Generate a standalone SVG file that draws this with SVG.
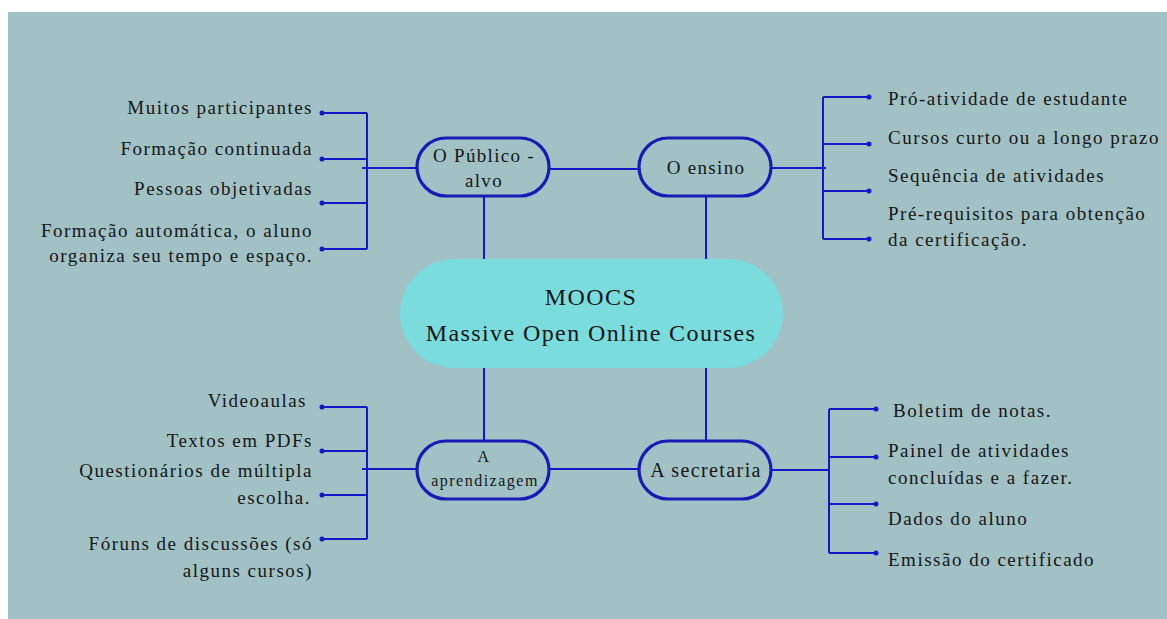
<svg xmlns="http://www.w3.org/2000/svg" width="1167" height="619" viewBox="0 0 1167 619">
  <style>
    .bg { fill: #a1c1c5; }
    .node { fill: none; stroke: #1a1ab4; stroke-width: 3.2; }
    .center { fill: #7adcdc; stroke: none; }
    .conn { fill: none; stroke: #1018c8; stroke-width: 2; }
    .dot { fill: #1018c8; }
    text { font-family: "Liberation Serif", "Times New Roman", serif; fill: #161616; }
    .lbl { font-size: 19px; letter-spacing: 1.5px; }
    .nd { font-size: 19px; letter-spacing: 1.3px; text-anchor: middle; }
    .ct { font-size: 24px; letter-spacing: 1.4px; text-anchor: middle; }
    .l { text-anchor: end; }
  </style>
  <rect x="0" y="0" width="1167" height="619" fill="#ffffff"/>
  <rect class="bg" x="8" y="12" width="1159" height="607"/>

  <g id="connectors">
    <!-- node to node -->
    <line class="conn" x1="549" y1="169" x2="639" y2="169"/>
    <line class="conn" x1="549" y1="469" x2="639" y2="469"/>
    <line class="conn" x1="484" y1="196" x2="484" y2="259"/>
    <line class="conn" x1="706" y1="196" x2="706" y2="259"/>
    <line class="conn" x1="484" y1="368" x2="484" y2="441"/>
    <line class="conn" x1="706" y1="368" x2="706" y2="441"/>
    <!-- top-left bracket -->
    <line class="conn" x1="417" y1="168" x2="362" y2="168"/>
    <line class="conn" x1="367" y1="113" x2="367" y2="249"/>
    <line class="conn" x1="322" y1="113" x2="367" y2="113"/>
    <line class="conn" x1="322" y1="159" x2="367" y2="159"/>
    <line class="conn" x1="322" y1="203" x2="367" y2="203"/>
    <line class="conn" x1="322" y1="249" x2="367" y2="249"/>
    <circle class="dot" cx="322" cy="113" r="2.5"/>
    <circle class="dot" cx="322" cy="159" r="2.5"/>
    <circle class="dot" cx="322" cy="203" r="2.5"/>
    <circle class="dot" cx="322" cy="249" r="2.5"/>
    <!-- top-right bracket -->
    <line class="conn" x1="771" y1="168" x2="826" y2="168"/>
    <line class="conn" x1="823" y1="97" x2="823" y2="239"/>
    <line class="conn" x1="823" y1="97" x2="869" y2="97"/>
    <line class="conn" x1="823" y1="144" x2="869" y2="144"/>
    <line class="conn" x1="823" y1="191" x2="869" y2="191"/>
    <line class="conn" x1="823" y1="239" x2="869" y2="239"/>
    <circle class="dot" cx="869" cy="97" r="2.5"/>
    <circle class="dot" cx="869" cy="144" r="2.5"/>
    <circle class="dot" cx="869" cy="191" r="2.5"/>
    <circle class="dot" cx="869" cy="239" r="2.5"/>
    <!-- bottom-left bracket -->
    <line class="conn" x1="417" y1="469" x2="362" y2="469"/>
    <line class="conn" x1="367" y1="407" x2="367" y2="539"/>
    <line class="conn" x1="322" y1="407" x2="367" y2="407"/>
    <line class="conn" x1="322" y1="451" x2="367" y2="451"/>
    <line class="conn" x1="322" y1="495" x2="367" y2="495"/>
    <line class="conn" x1="322" y1="539" x2="367" y2="539"/>
    <circle class="dot" cx="322" cy="407" r="2.5"/>
    <circle class="dot" cx="322" cy="451" r="2.5"/>
    <circle class="dot" cx="322" cy="495" r="2.5"/>
    <circle class="dot" cx="322" cy="539" r="2.5"/>
    <!-- bottom-right bracket -->
    <line class="conn" x1="771" y1="470" x2="830" y2="470"/>
    <line class="conn" x1="829" y1="409" x2="829" y2="553"/>
    <line class="conn" x1="829" y1="409" x2="876" y2="409"/>
    <line class="conn" x1="829" y1="457" x2="876" y2="457"/>
    <line class="conn" x1="829" y1="504" x2="876" y2="504"/>
    <line class="conn" x1="829" y1="553" x2="876" y2="553"/>
    <circle class="dot" cx="876" cy="409" r="2.5"/>
    <circle class="dot" cx="876" cy="457" r="2.5"/>
    <circle class="dot" cx="876" cy="504" r="2.5"/>
    <circle class="dot" cx="876" cy="553" r="2.5"/>
  </g>

  <g id="moocs">
    <rect class="center" x="400" y="259" width="383" height="109" rx="54.5"/>
    <text class="ct" x="591" y="305">MOOCS</text>
    <text class="ct" x="591" y="341">Massive Open Online Courses</text>
  </g>

  <g id="publico-alvo">
    <rect class="node" x="417" y="138" width="132" height="58" rx="29"/>
    <text class="nd" x="484" y="162">O Público -</text>
    <text class="nd" x="484" y="187">alvo</text>
  </g>

  <g id="ensino">
    <rect class="node" x="639" y="138" width="132" height="58" rx="29"/>
    <text class="nd" x="706" y="174">O ensino</text>
  </g>

  <g id="aprendizagem">
    <rect class="node" x="417" y="441" width="132" height="58" rx="29"/>
    <text class="nd" x="484" y="462" style="font-size:16px;letter-spacing:1.5px">A</text>
    <text class="nd" x="485" y="486" style="font-size:16px;letter-spacing:1.5px">aprendizagem</text>
  </g>

  <g id="secretaria">
    <rect class="node" x="639" y="441" width="132" height="58" rx="29"/>
    <text class="nd" x="706" y="477" style="font-size:20px;letter-spacing:1.4px">A secretaria</text>
  </g>

  <g id="publico-items">
    <text class="lbl l" x="313" y="114">Muitos participantes</text>
    <text class="lbl l" x="313" y="155">Formação continuada</text>
    <text class="lbl l" x="313" y="195">Pessoas objetivadas</text>
    <text class="lbl l" x="313" y="237">Formação automática, o aluno</text>
    <text class="lbl l" x="313" y="262">organiza seu tempo e espaço.</text>
  </g>

  <g id="ensino-items">
    <text class="lbl" x="888" y="105">Pró-atividade de estudante</text>
    <text class="lbl" x="888" y="144">Cursos curto ou a longo prazo</text>
    <text class="lbl" x="888" y="182">Sequência de atividades</text>
    <text class="lbl" x="888" y="220">Pré-requisitos para obtenção</text>
    <text class="lbl" x="888" y="246">da certificação.</text>
  </g>

  <g id="aprendizagem-items">
    <text class="lbl l" x="307" y="407">Videoaulas</text>
    <text class="lbl l" x="313" y="447">Textos em PDFs</text>
    <text class="lbl l" x="313" y="477">Questionários de múltipla</text>
    <text class="lbl l" x="311" y="504">escolha.</text>
    <text class="lbl l" x="313" y="550">Fóruns de discussões (só</text>
    <text class="lbl l" x="313" y="577">alguns cursos)</text>
  </g>

  <g id="secretaria-items">
    <text class="lbl" x="893" y="417">Boletim de notas.</text>
    <text class="lbl" x="888" y="457">Painel de atividades</text>
    <text class="lbl" x="888" y="484">concluídas e a fazer.</text>
    <text class="lbl" x="888" y="525">Dados do aluno</text>
    <text class="lbl" x="888" y="566">Emissão do certificado</text>
  </g>
</svg>
